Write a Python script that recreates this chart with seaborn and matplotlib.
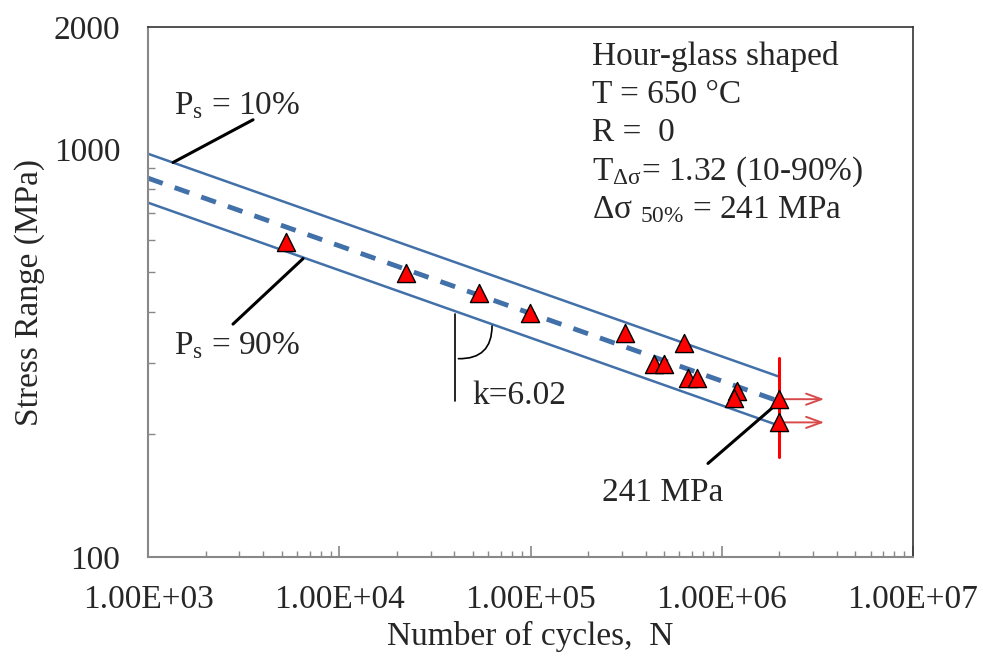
import numpy as np
import pandas as pd
import seaborn as sns
import matplotlib as mpl
import matplotlib.pyplot as plt
from matplotlib.ticker import FixedLocator, NullFormatter
mpl.use('Agg')

# ---------------------------------------------------------- data
# test results (cycles, stress range in MPa)
cycles = [5270, 22300, 53800, 99300, 312000, 634800, 442000, 499000,
          666000, 742000, 1.20e6, 1.16e6]
stress = [592, 497, 445, 397, 355, 336, 298, 298, 275, 275, 256, 246]

# run-outs at 2e6 cycles
runout_cycles = [2.0e6, 2.0e6]
runout_stress = [244, 214]
runout_end = 3.55e6

# S-N curves (k = 6.02)
line_cycles = [1.0e3, 2.0e6]
s_10 = [977, 277]
s_50 = [851, 241]
s_90 = [741, 210]

xticks = [1e3, 1e4, 1e5, 1e6, 1e7]
xtick_labels = ['1.00E+03', '1.00E+04', '1.00E+05', '1.00E+06', '1.00E+07']
yticks = [100, 1000, 2000]
ytick_labels = ['100', '1000', '2000']

info_text = ['Hour-glass shaped', 'T = 650 \u00b0C', 'R =  0',
             'T$_{\\mathrm{\u0394\u03c3}}$= 1.32 (10-90%)',
             '\u0394\u03c3 $_{50\\%}$ = 241 MPa']

# ---------------------------------------------------------- style
sns.set_style('white')
plt.rcParams['font.family'] = ['Liberation Serif', 'DejaVu Serif']
plt.rcParams['mathtext.fontset'] = 'custom'
plt.rcParams['mathtext.rm'] = 'Liberation Serif'
plt.rcParams['mathtext.it'] = 'Liberation Serif:italic'
plt.rcParams['mathtext.bf'] = 'Liberation Serif:bold'
FS = 24
blue = '#4270A8'

df_pts = pd.DataFrame({'N': cycles, 'S': stress})
df_run = pd.DataFrame({'N': runout_cycles, 'S': runout_stress})
df_lines = pd.DataFrame({'N': line_cycles * 3,
                         'S': s_10 + s_50 + s_90,
                         'curve': ['10%'] * 2 + ['50%'] * 2 + ['90%'] * 2})

fig = plt.figure(figsize=(9.83, 6.59), dpi=100)
ax = fig.add_axes([0.1506, 0.1548, 0.7782, 0.8042])
ax.set_xscale('log')
ax.set_yscale('log')

sns.lineplot(data=df_lines[df_lines['curve'] != '50%'], x='N', y='S',
             units='curve', estimator=None, color=blue, lw=1.8, ax=ax)
sns.lineplot(data=df_lines[df_lines['curve'] == '50%'], x='N', y='S',
             estimator=None, color=blue, lw=3.5, ax=ax,
             linestyle=(0, (3.2, 2.6)))

# run-out arrows and vertical marker line
for n, s in zip(runout_cycles, runout_stress):
  ax.annotate('', xy=(runout_end, s), xytext=(n, s),
              arrowprops=dict(arrowstyle='->,head_length=1.1,head_width=0.4',
                              color='#d84a4a', lw=1.4))
ax.plot([2.0e6, 2.0e6], [308, 176], color='red', lw=2.2, zorder=3)

sns.scatterplot(data=df_pts, x='N', y='S', marker='^', s=170, color='red',
                edgecolor='black', linewidth=1.0, ax=ax, zorder=5)
sns.scatterplot(data=df_run, x='N', y='S', marker='^', s=170, color='red',
                edgecolor='black', linewidth=1.0, ax=ax, zorder=5)

# slope indicator
ax.plot([40300, 40300], [395, 242], color='black', lw=1.2)
ax.annotate('', xy=(62900, 375), xytext=(40600, 307),
            arrowprops=dict(arrowstyle='-', color='black', lw=1.2,
                            connectionstyle='arc3,rad=0.55'))
ax.text(49400, 249, 'k=6.02', fontsize=FS, va='center', ha='left')

# leader lines and labels
ax.plot([1351, 3540], [930, 1184], color='black', lw=2.2)
ax.text(2918, 1281, 'P$_\\mathrm{s}$ = 10%', fontsize=FS, ha='center', va='center')
ax.plot([6464, 2781], [540, 373], color='black', lw=2.2)
ax.text(2918, 330, 'P$_\\mathrm{s}$ = 90%', fontsize=FS, ha='center', va='center')
ax.plot([847000, 1.97e6], [169.7, 239], color='black', lw=2.2)
ax.text(493000, 144, '241 MPa', fontsize=FS, ha='center', va='center')

for i, line in enumerate(info_text):
  ax.text(0.581, 0.945 - i * 0.0725, line, transform=ax.transAxes,
          fontsize=FS, ha='left', va='center')

# axes
ax.set_xlim(1e3, 1e7)
ax.set_ylim(100, 2000)
ax.xaxis.set_major_locator(FixedLocator(xticks))
ax.set_xticklabels(xtick_labels)
ax.xaxis.set_minor_locator(FixedLocator([m * 10**e for e in range(3, 7) for m in range(2, 10)]))
ax.xaxis.set_minor_formatter(NullFormatter())
ax.yaxis.set_major_locator(FixedLocator(yticks))
ax.set_yticklabels(ytick_labels)
ax.yaxis.set_minor_locator(FixedLocator([m * 100 for m in range(2, 10)]))
ax.yaxis.set_minor_formatter(NullFormatter())
ax.tick_params(axis='both', which='both', direction='in', labelsize=FS,
               color='#888888', bottom=True, left=True, top=False, right=False)
ax.tick_params(axis='x', which='major', length=8, width=1.2, pad=20)
ax.tick_params(axis='x', which='minor', length=4, width=1.0)
ax.tick_params(axis='y', which='major', length=0, pad=20)
ax.tick_params(axis='y', which='minor', length=5, width=1.0)

for side in ['left', 'bottom']:
  ax.spines[side].set_color('#888888')
  ax.spines[side].set_linewidth(1.5)
for side in ['top', 'right']:
  ax.spines[side].set_color('#333333')
  ax.spines[side].set_linewidth(1.2)

ax.set_xlabel('Number of cycles,  N', fontsize=FS, labelpad=4)
ax.set_ylabel('Stress Range (MPa)', fontsize=FS, labelpad=6)

plt.savefig('out.png', dpi=100)
plt.close(fig)
